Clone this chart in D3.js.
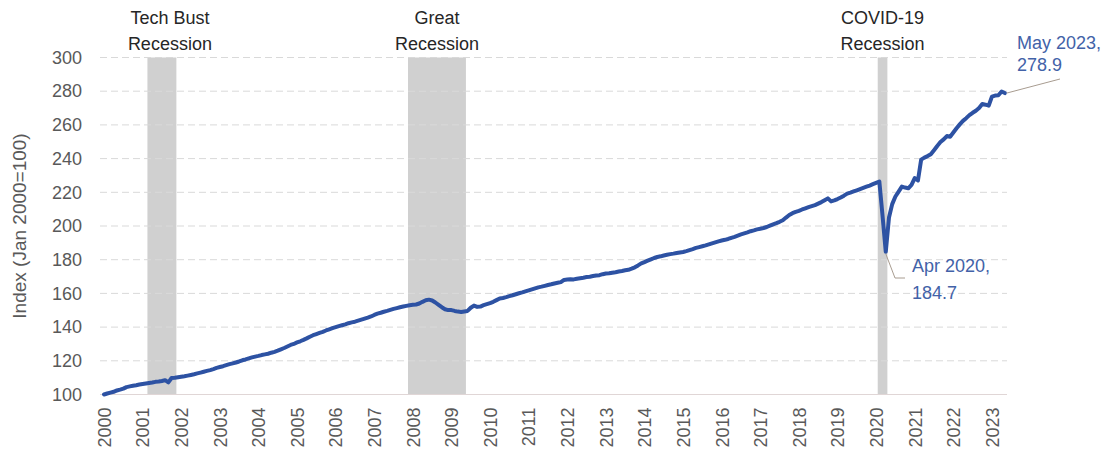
<!DOCTYPE html>
<html>
    <head>
        <title>Index chart d3js</title>
        <meta charset="UTF-8">
        <script type="text/javascript" src="https://cdn.jsdelivr.net/npm/d3@7"></script>
        <style>
            body {
                margin: 0;
                background: #fff;
            }
            svg {
                display: block;
                font-family: "Liberation Sans", Arial, sans-serif;
            }
        </style>
    </head>
    <body>
        <script>
            // monthly index, Jan 2000 = 100
            var startYear = 2000;
            var indexValues = [
                100.0, 100.6, 101.1, 101.6, 102.4, 102.9, 103.5, 104.4, 104.8, 105.2, 105.5, 105.9, // 2000
                106.2, 106.5, 106.8, 107.1, 107.5, 107.7, 108.0, 108.5, 107.2, 109.8, 109.9, 110.2, // 2001
                110.5, 110.8, 111.2, 111.6, 112.0, 112.5, 113.0, 113.5, 114.0, 114.5, 115.1, 115.8, // 2002
                116.3, 116.8, 117.4, 118.0, 118.5, 119.0, 119.6, 120.3, 120.8, 121.4, 122.0, 122.5, // 2003
                122.9, 123.4, 123.8, 124.2, 124.8, 125.3, 126.0, 126.8, 127.6, 128.5, 129.4, 130.0, // 2004
                130.9, 131.6, 132.4, 133.3, 134.3, 135.2, 135.9, 136.6, 137.2, 138.0, 138.7, 139.4, // 2005
                140.0, 140.6, 141.1, 141.6, 142.3, 142.8, 143.2, 143.8, 144.4, 145.0, 145.6, 146.3, // 2006
                147.2, 148.0, 148.5, 149.1, 149.6, 150.2, 150.8, 151.3, 151.8, 152.2, 152.6, 153.0, // 2007
                153.2, 153.4, 154.0, 155.0, 155.9, 156.3, 155.8, 154.6, 153.2, 151.8, 150.6, 150.1, // 2008
                150.1, 149.6, 149.2, 149.0, 149.3, 149.6, 151.5, 152.8, 152.0, 152.2, 153.0, 153.6, // 2009
                154.2, 155.0, 156.0, 157.0, 157.3, 157.8, 158.4, 158.9, 159.5, 160.1, 160.6, 161.2, // 2010
                161.8, 162.4, 163.0, 163.6, 164.0, 164.5, 165.0, 165.4, 165.9, 166.3, 166.7, 168.0, // 2011
                168.2, 168.4, 168.3, 168.7, 169.0, 169.3, 169.7, 169.9, 170.3, 170.6, 170.8, 171.4, // 2012
                171.8, 172.0, 172.3, 172.6, 173.0, 173.3, 173.7, 174.0, 174.7, 175.5, 176.6, 177.8, // 2013
                178.6, 179.4, 180.2, 181.0, 181.6, 182.0, 182.5, 182.9, 183.3, 183.6, 184.0, 184.3, // 2014
                184.6, 185.1, 185.7, 186.3, 187.0, 187.5, 188.0, 188.5, 189.1, 189.7, 190.3, 190.9, // 2015
                191.4, 191.8, 192.3, 193.0, 193.6, 194.3, 195.0, 195.6, 196.2, 196.9, 197.4, 198.0, // 2016
                198.4, 198.8, 199.4, 200.2, 201.0, 201.7, 202.5, 203.4, 205.0, 206.5, 207.6, 208.4, // 2017
                209.0, 209.8, 210.5, 211.2, 211.8, 212.4, 213.3, 214.2, 215.3, 216.4, 214.6, 215.2, // 2018
                216.0, 216.9, 218.0, 219.2, 219.8, 220.5, 221.2, 221.9, 222.6, 223.3, 224.0, 224.8, // 2019
                225.6, 226.4, 206.0, 184.7, 205.0, 213.0, 217.5, 220.4, 223.4, 222.8, 222.4, 224.4, // 2020
                228.4, 227.0, 239.4, 240.6, 241.5, 242.6, 245.0, 247.5, 249.8, 251.4, 253.4, 253.0, // 2021
                255.5, 258.0, 260.3, 262.4, 264.0, 265.8, 267.2, 268.4, 270.0, 272.4, 272.0, 271.4, // 2022
                276.8, 277.4, 277.6, 279.8, 278.9                                                    // 2023
            ];

            var yearTicks = d3.range(2000, 2024);
            var yTicks = [100, 120, 140, 160, 180, 200, 220, 240, 260, 280, 300];

            // recessions: first and last month index (0 = Jan 2000)
            var recessionNames = [["Tech Bust", "Recession"], ["Great", "Recession"], ["COVID-19", "Recession"]];
            var recessionStart = [14, 95, 241];
            var recessionEnd = [22, 112, 243];

            var lastLabel = ["May 2023,", "278.9"];
            var lowLabel = ["Apr 2020,", "184.7"];

            var W = 1109, H = 454;
            var plotLeft = 100, plotRight = 1007, plotTop = 57.5, plotBottom = 394.5;

            var svg = d3.select("body").append("svg")
                .attr("width", W)
                .attr("height", H);

            var x = d3.scaleLinear()
                .domain([0, indexValues.length - 1])
                .range([104, 1004.8]);

            var y = d3.scaleLinear()
                .domain([100, 300])
                .range([plotBottom, plotTop]);

            // recession bars
            svg.append("g").selectAll("rect")
                .data(recessionStart)
              .enter().append("rect")
                .attr("x", function(d) { return x(d - 0.5); })
                .attr("width", function(d, i) { return x(recessionEnd[i] + 0.5) - x(d - 0.5); })
                .attr("y", y(300))
                .attr("height", y(100) - y(300))
                .attr("fill", "#d0d0d0");

            // grid
            svg.append("g").selectAll("line")
                .data(yTicks.slice(1))
              .enter().append("line")
                .attr("x1", plotLeft)
                .attr("x2", plotRight)
                .attr("y1", function(d) { return y(d); })
                .attr("y2", function(d) { return y(d); })
                .attr("stroke", "#d9d9d9")
                .attr("stroke-width", 1)
                .attr("stroke-dasharray", "7,4");

            svg.append("line")
                .attr("x1", plotLeft)
                .attr("x2", plotRight)
                .attr("y1", y(100))
                .attr("y2", y(100))
                .attr("stroke", "#e0d6d6")
                .attr("stroke-width", 1.2);

            // axes
            var yAxis = svg.append("g")
                .attr("transform", "translate(" + plotLeft + ",0)")
                .call(d3.axisLeft(y).tickValues(yTicks).tickSize(0).tickPadding(18));
            yAxis.select(".domain").remove();
            yAxis.selectAll("text")
                .attr("fill", "#595959")
                .style("font-size", "18px")
                .style("font-family", "Liberation Sans, Arial, sans-serif");

            var xAxis = svg.append("g")
                .attr("transform", "translate(0," + plotBottom + ")")
                .call(d3.axisBottom(x)
                    .tickValues(yearTicks.map(function(yr) { return (yr - startYear) * 12; }))
                    .tickFormat(function(d) { return startYear + d / 12; })
                    .tickSize(0));
            xAxis.select(".domain").remove();
            xAxis.selectAll("text")
                .attr("transform", "rotate(-90)")
                .attr("x", -13)
                .attr("y", 0)
                .attr("dy", "0.35em")
                .style("text-anchor", "end")
                .attr("fill", "#595959")
                .style("font-size", "18px")
                .style("font-family", "Liberation Sans, Arial, sans-serif");

            svg.append("text")
                .attr("transform", "translate(26," + ((plotTop + plotBottom) / 2) + ") rotate(-90)")
                .attr("text-anchor", "middle")
                .attr("fill", "#595959")
                .style("font-size", "19px")
                .text("Index (Jan 2000=100)");

            // the line
            var line = d3.line()
                .x(function(d, i) { return x(i); })
                .y(function(d) { return y(d); });

            svg.append("path")
                .datum(indexValues)
                .attr("d", line)
                .attr("fill", "none")
                .attr("stroke", "#2d52a3")
                .attr("stroke-width", 4)
                .attr("stroke-linejoin", "round")
                .attr("stroke-linecap", "round");

            // recession labels
            var labelShift = [8, 0, 0];
            recessionNames.forEach(function(lines, i) {
                var cx = (x(recessionStart[i] - 0.5) + x(recessionEnd[i] + 0.5)) / 2 + labelShift[i];
                var t = svg.append("text")
                    .attr("text-anchor", "middle")
                    .attr("fill", "#262626")
                    .style("font-size", "18px");
                t.append("tspan").attr("x", cx).attr("y", 24).text(lines[0]);
                t.append("tspan").attr("x", cx).attr("y", 50).text(lines[1]);
            });

            // end point callout
            var iLast = indexValues.length - 1;
            svg.append("line")
                .attr("x1", x(iLast) + 2)
                .attr("y1", y(indexValues[iLast]))
                .attr("x2", 1060)
                .attr("y2", 79)
                .attr("stroke", "#a89c90")
                .attr("stroke-width", 1);
            var t1 = svg.append("text")
                .attr("fill", "#4262a8")
                .style("font-size", "18px");
            t1.append("tspan").attr("x", 1017).attr("y", 49).text(lastLabel[0]);
            t1.append("tspan").attr("x", 1017).attr("y", 71).text(lastLabel[1]);

            // low point callout
            var iLow = d3.minIndex(indexValues.slice(200)) + 200;
            svg.append("path")
                .attr("d", "M" + x(iLow) + "," + (y(indexValues[iLow]) + 2) + " L895,278 L905,278")
                .attr("fill", "none")
                .attr("stroke", "#a89c90")
                .attr("stroke-width", 1);
            var t2 = svg.append("text")
                .attr("fill", "#4262a8")
                .style("font-size", "18px");
            t2.append("tspan").attr("x", 912).attr("y", 272).text(lowLabel[0]);
            t2.append("tspan").attr("x", 912).attr("y", 299).text(lowLabel[1]);
        </script>
    </body>
</html>
